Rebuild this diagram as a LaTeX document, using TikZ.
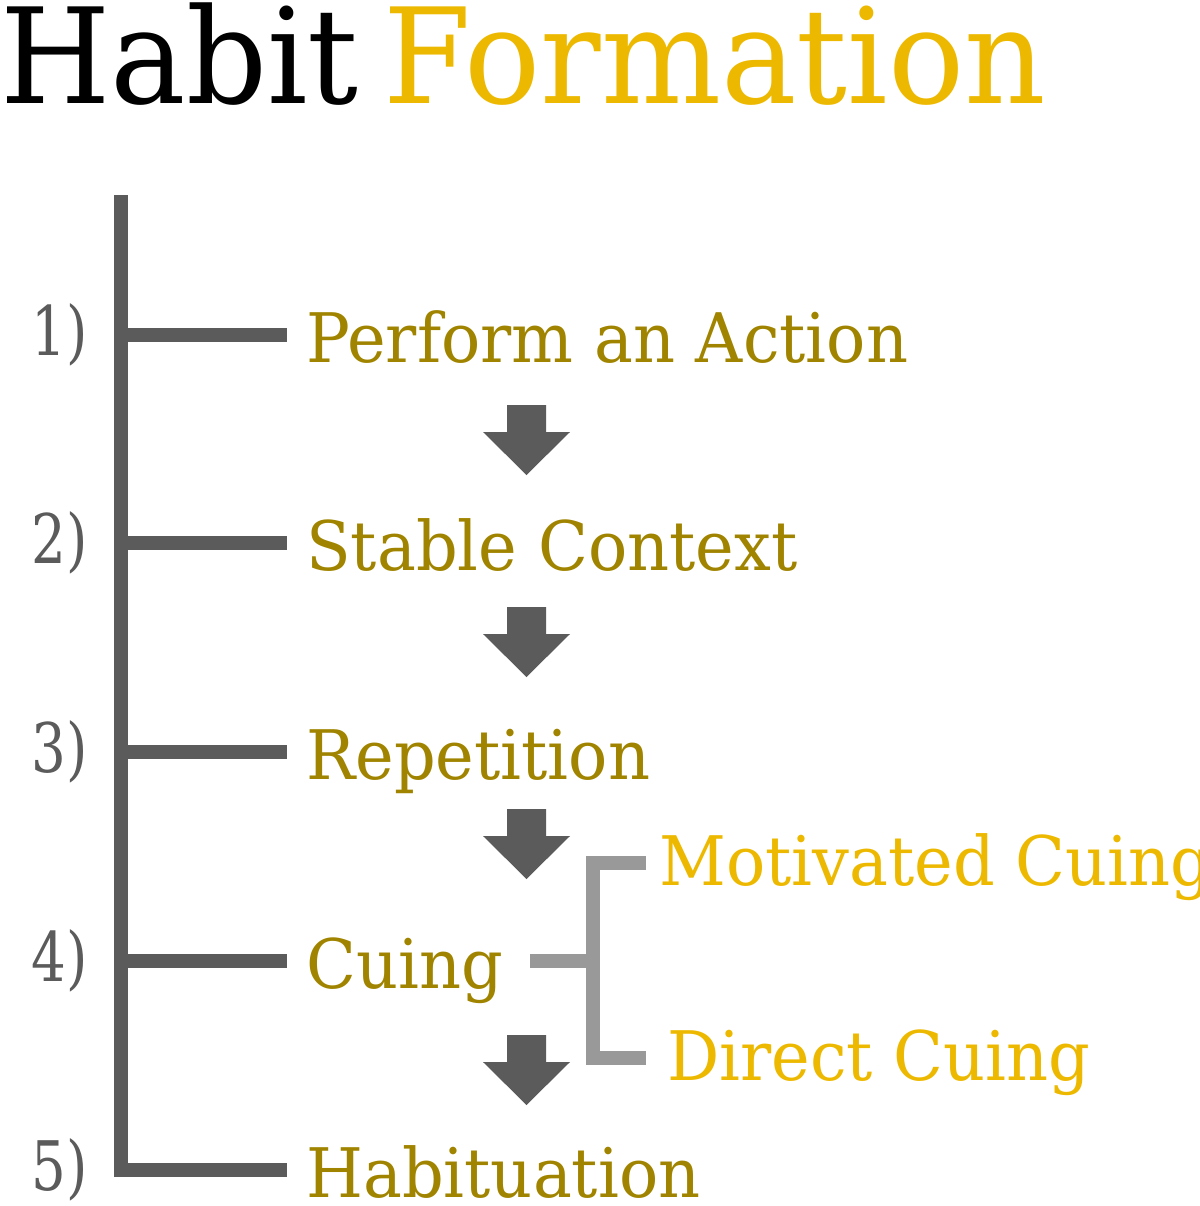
\documentclass[tikz,border=0pt]{standalone}
\usepackage{fontspec}
\setmainfont[FakeStretch=0.955]{DejaVu Serif}
\newfontfamily\titlefont[FakeStretch=0.955]{DejaVu Serif}
\newfontfamily\numfont[FakeStretch=0.8]{DejaVu Serif}
\definecolor{barGray}{HTML}{5B5B5B}
\definecolor{bracketGray}{HTML}{999999}
\definecolor{darkGold}{HTML}{A08400}
\definecolor{brightGold}{HTML}{EDB800}

\begin{document}
\begin{tikzpicture}[x=0.025cm,y=-0.025cm,
  rung/.style={barGray,line width=10.5pt},
  bracket/.style={bracketGray,line width=10.5pt,line join=miter},
  steplabel/.style={anchor=base west,inner sep=0pt,text=darkGold,font=\fontsize{48.6}{50}\selectfont},
  sublabel/.style={anchor=base west,inner sep=0pt,text=brightGold,font=\fontsize{48.6}{50}\selectfont},
  stepnum/.style={anchor=base east,inner sep=0pt,text=barGray,font=\numfont\fontsize{48.6}{50}\selectfont},
  titlepart/.style={anchor=base west,inner sep=0pt,font=\titlefont\fontsize{94.3}{100}\selectfont}]
\useasboundingbox (0,0) rectangle (1200,1206);
\clip (0,0) rectangle (1200,1206);
%title
\node[titlepart,text=black] (habit) at (0,103) {Habit};
\node[titlepart,text=brightGold] (formation) at (383,103) {Formation};
%main bar
\draw[rung] (121,195) -- (121,1177);
%steps
\foreach \i/\y/\txt in {1/335/Perform an Action,2/543/Stable Context,3/752/Repetition,4/961/Cuing,5/1170/Habituation}{
\draw[rung] (121,\y) -- (287,\y);
\node[stepnum] (n\i) at (88,\y+20) {\i)};
\node[steplabel] (l\i) at (306,\y+27) {\txt};
}
%arrows between steps
\foreach \y in {405,607,809,1035}{
\fill[barGray] (507,\y) -- (546,\y) -- (546,\y+27) -- (570,\y+27) -- (526.5,\y+70) -- (483,\y+27) -- (507,\y+27) -- cycle;
}
%cuing bracket
\coordinate (fork) at (593,961);
\draw[bracket] (530,961) -- (fork);
\draw[bracket] (646,863) -- (593,863) -- (593,1058) -- (646,1058);
\node[sublabel] (motivated) at (659,885) {Motivated Cuing};
\node[sublabel] (direct) at (667,1080) {Direct Cuing};
\end{tikzpicture}
\end{document}
